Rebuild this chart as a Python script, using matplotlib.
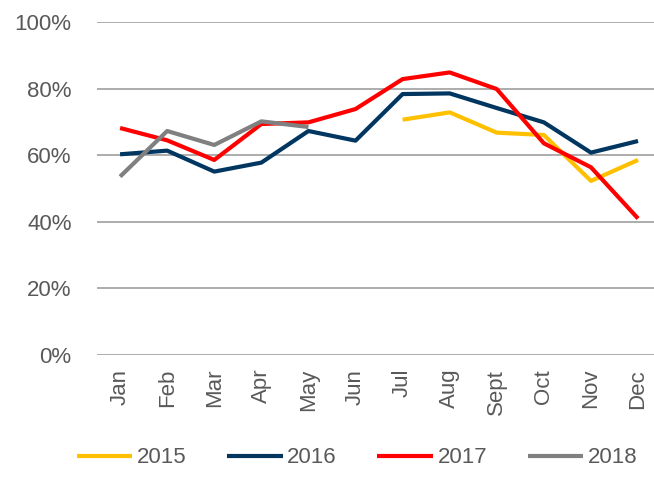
import matplotlib
matplotlib.use("Agg")
import matplotlib.pyplot as plt
from matplotlib.ticker import PercentFormatter

plt.rcParams['font.family'] = ['Liberation Sans', 'DejaVu Sans']

# Months and yearly values (%), None where no data
months = ['Jan', 'Feb', 'Mar', 'Apr', 'May', 'Jun',
          'Jul', 'Aug', 'Sept', 'Oct', 'Nov', 'Dec']
y2015 = [None, None, None, None, None, None, 70.7, 72.9, 66.8, 66.1, 52.3, 58.6]
y2016 = [60.3, 61.4, 55.1, 57.8, 67.3, 64.4, 78.4, 78.6, 74.2, 69.9, 60.8, 64.3]
y2017 = [68.2, 64.5, 58.6, 69.4, 69.9, 73.9, 82.9, 84.9, 79.9, 63.6, 56.4, 41.0]
y2018 = [53.6, 67.3, 63.1, 70.2, 68.5, None, None, None, None, None, None, None]

series = [('2015', y2015, '#FFC000'),
          ('2016', y2016, '#003660'),
          ('2017', y2017, '#FF0000'),
          ('2018', y2018, '#808080')]

text_color = '#595959'
grid_color = '#A6A6A6'

fig = plt.figure(figsize=(6.54, 4.93), dpi=100)
ax = fig.add_axes([0.1476, 0.28, 0.864, 0.675])

x = list(range(len(months)))
for label, vals, color in series:
    pts = [(i, v) for i, v in zip(x, vals) if v is not None]
    ax.plot([p[0] for p in pts], [p[1] for p in pts], color=color, lw=3.0,
            label=label, solid_capstyle='butt', zorder=3)

ax.set_xlim(-0.5, len(months) - 0.5)
ax.set_ylim(0, 100)
ax.set_yticks(range(0, 101, 20))
ax.yaxis.set_major_formatter(PercentFormatter(decimals=0))
ax.set_xticks(x)
ax.set_xticklabels(months, rotation=90)
ax.grid(axis='y', color=grid_color, lw=1.3, zorder=0)
ax.set_axisbelow(True)
for s in ax.spines.values():
    s.set_visible(False)
ax.tick_params(axis='both', length=0, labelsize=16, labelcolor=text_color)
ax.tick_params(axis='y', pad=18)
ax.tick_params(axis='x', pad=10)

fig.legend(loc='center', bbox_to_anchor=(0.546, 0.071), ncol=4, frameon=False,
           fontsize=16, labelcolor=text_color, handlelength=2.5,
           handletextpad=0.2, columnspacing=1.83)

fig.savefig('out.png', dpi=100)
